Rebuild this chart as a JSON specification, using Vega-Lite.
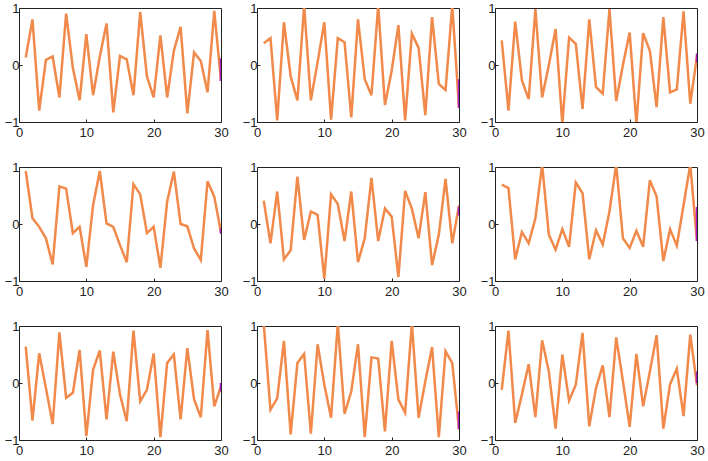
{
"$schema":"https://vega.github.io/schema/vega-lite/v6.json",
"padding":{"left":3,"top":1,"right":0,"bottom":0},
"background":"white",
"data":{"values":[
{"p":1,"x":1,"y":0.13,"s":"o"},{"p":1,"x":2,"y":0.8,"s":"o"},{"p":1,"x":3,"y":-0.8,"s":"o"},{"p":1,"x":4,"y":0.09,"s":"o"},{"p":1,"x":5,"y":0.15,"s":"o"},{"p":1,"x":6,"y":-0.57,"s":"o"},{"p":1,"x":7,"y":0.9,"s":"o"},{"p":1,"x":8,"y":-0.05,"s":"o"},{"p":1,"x":9,"y":-0.62,"s":"o"},{"p":1,"x":10,"y":0.54,"s":"o"},{"p":1,"x":11,"y":-0.53,"s":"o"},{"p":1,"x":12,"y":0.15,"s":"o"},{"p":1,"x":13,"y":0.73,"s":"o"},{"p":1,"x":14,"y":-0.83,"s":"o"},{"p":1,"x":15,"y":0.16,"s":"o"},{"p":1,"x":16,"y":0.1,"s":"o"},{"p":1,"x":17,"y":-0.53,"s":"o"},{"p":1,"x":18,"y":0.93,"s":"o"},{"p":1,"x":19,"y":-0.2,"s":"o"},{"p":1,"x":20,"y":-0.57,"s":"o"},{"p":1,"x":21,"y":0.52,"s":"o"},{"p":1,"x":22,"y":-0.57,"s":"o"},{"p":1,"x":23,"y":0.25,"s":"o"},{"p":1,"x":24,"y":0.67,"s":"o"},{"p":1,"x":25,"y":-0.85,"s":"o"},{"p":1,"x":26,"y":0.22,"s":"o"},{"p":1,"x":27,"y":0.07,"s":"o"},{"p":1,"x":28,"y":-0.48,"s":"o"},{"p":1,"x":29,"y":0.95,"s":"o"},{"p":1,"x":30,"y":-0.28,"s":"o"},
{"p":2,"x":1,"y":0.38,"s":"o"},{"p":2,"x":2,"y":0.47,"s":"o"},{"p":2,"x":3,"y":-0.97,"s":"o"},{"p":2,"x":4,"y":0.75,"s":"o"},{"p":2,"x":5,"y":-0.2,"s":"o"},{"p":2,"x":6,"y":-0.62,"s":"o"},{"p":2,"x":7,"y":1.04,"s":"o"},{"p":2,"x":8,"y":-0.62,"s":"o"},{"p":2,"x":9,"y":0.05,"s":"o"},{"p":2,"x":10,"y":0.75,"s":"o"},{"p":2,"x":11,"y":-0.96,"s":"o"},{"p":2,"x":12,"y":0.47,"s":"o"},{"p":2,"x":13,"y":0.4,"s":"o"},{"p":2,"x":14,"y":-0.92,"s":"o"},{"p":2,"x":15,"y":0.8,"s":"o"},{"p":2,"x":16,"y":-0.25,"s":"o"},{"p":2,"x":17,"y":-0.53,"s":"o"},{"p":2,"x":18,"y":1.04,"s":"o"},{"p":2,"x":19,"y":-0.7,"s":"o"},{"p":2,"x":20,"y":-0.1,"s":"o"},{"p":2,"x":21,"y":0.7,"s":"o"},{"p":2,"x":22,"y":-0.97,"s":"o"},{"p":2,"x":23,"y":0.55,"s":"o"},{"p":2,"x":24,"y":0.3,"s":"o"},{"p":2,"x":25,"y":-0.88,"s":"o"},{"p":2,"x":26,"y":0.84,"s":"o"},{"p":2,"x":27,"y":-0.33,"s":"o"},{"p":2,"x":28,"y":-0.44,"s":"o"},{"p":2,"x":29,"y":1.04,"s":"o"},{"p":2,"x":30,"y":-0.75,"s":"o"},
{"p":3,"x":1,"y":0.43,"s":"o"},{"p":3,"x":2,"y":-0.8,"s":"o"},{"p":3,"x":3,"y":0.76,"s":"o"},{"p":3,"x":4,"y":-0.27,"s":"o"},{"p":3,"x":5,"y":-0.6,"s":"o"},{"p":3,"x":6,"y":0.98,"s":"o"},{"p":3,"x":7,"y":-0.57,"s":"o"},{"p":3,"x":8,"y":0.0,"s":"o"},{"p":3,"x":9,"y":0.63,"s":"o"},{"p":3,"x":10,"y":-1.03,"s":"o"},{"p":3,"x":11,"y":0.48,"s":"o"},{"p":3,"x":12,"y":0.37,"s":"o"},{"p":3,"x":13,"y":-0.77,"s":"o"},{"p":3,"x":14,"y":0.8,"s":"o"},{"p":3,"x":15,"y":-0.39,"s":"o"},{"p":3,"x":16,"y":-0.5,"s":"o"},{"p":3,"x":17,"y":0.98,"s":"o"},{"p":3,"x":18,"y":-0.63,"s":"o"},{"p":3,"x":19,"y":0.0,"s":"o"},{"p":3,"x":20,"y":0.57,"s":"o"},{"p":3,"x":21,"y":-1.03,"s":"o"},{"p":3,"x":22,"y":0.56,"s":"o"},{"p":3,"x":23,"y":0.25,"s":"o"},{"p":3,"x":24,"y":-0.74,"s":"o"},{"p":3,"x":25,"y":0.84,"s":"o"},{"p":3,"x":26,"y":-0.48,"s":"o"},{"p":3,"x":27,"y":-0.43,"s":"o"},{"p":3,"x":28,"y":0.94,"s":"o"},{"p":3,"x":29,"y":-0.68,"s":"o"},{"p":3,"x":30,"y":0.16,"s":"o"},
{"p":4,"x":1,"y":0.93,"s":"o"},{"p":4,"x":2,"y":0.1,"s":"o"},{"p":4,"x":3,"y":-0.05,"s":"o"},{"p":4,"x":4,"y":-0.25,"s":"o"},{"p":4,"x":5,"y":-0.71,"s":"o"},{"p":4,"x":6,"y":0.66,"s":"o"},{"p":4,"x":7,"y":0.62,"s":"o"},{"p":4,"x":8,"y":-0.16,"s":"o"},{"p":4,"x":9,"y":-0.05,"s":"o"},{"p":4,"x":10,"y":-0.75,"s":"o"},{"p":4,"x":11,"y":0.33,"s":"o"},{"p":4,"x":12,"y":0.93,"s":"o"},{"p":4,"x":13,"y":0.01,"s":"o"},{"p":4,"x":14,"y":-0.05,"s":"o"},{"p":4,"x":15,"y":-0.37,"s":"o"},{"p":4,"x":16,"y":-0.67,"s":"o"},{"p":4,"x":17,"y":0.7,"s":"o"},{"p":4,"x":18,"y":0.52,"s":"o"},{"p":4,"x":19,"y":-0.16,"s":"o"},{"p":4,"x":20,"y":-0.05,"s":"o"},{"p":4,"x":21,"y":-0.77,"s":"o"},{"p":4,"x":22,"y":0.39,"s":"o"},{"p":4,"x":23,"y":0.92,"s":"o"},{"p":4,"x":24,"y":0.0,"s":"o"},{"p":4,"x":25,"y":-0.04,"s":"o"},{"p":4,"x":26,"y":-0.43,"s":"o"},{"p":4,"x":27,"y":-0.63,"s":"o"},{"p":4,"x":28,"y":0.75,"s":"o"},{"p":4,"x":29,"y":0.48,"s":"o"},{"p":4,"x":30,"y":-0.15,"s":"o"},
{"p":5,"x":1,"y":0.41,"s":"o"},{"p":5,"x":2,"y":-0.34,"s":"o"},{"p":5,"x":3,"y":0.57,"s":"o"},{"p":5,"x":4,"y":-0.62,"s":"o"},{"p":5,"x":5,"y":-0.46,"s":"o"},{"p":5,"x":6,"y":0.83,"s":"o"},{"p":5,"x":7,"y":-0.28,"s":"o"},{"p":5,"x":8,"y":0.22,"s":"o"},{"p":5,"x":9,"y":0.16,"s":"o"},{"p":5,"x":10,"y":-0.96,"s":"o"},{"p":5,"x":11,"y":0.52,"s":"o"},{"p":5,"x":12,"y":0.35,"s":"o"},{"p":5,"x":13,"y":-0.3,"s":"o"},{"p":5,"x":14,"y":0.57,"s":"o"},{"p":5,"x":15,"y":-0.67,"s":"o"},{"p":5,"x":16,"y":-0.25,"s":"o"},{"p":5,"x":17,"y":0.81,"s":"o"},{"p":5,"x":18,"y":-0.3,"s":"o"},{"p":5,"x":19,"y":0.27,"s":"o"},{"p":5,"x":20,"y":0.13,"s":"o"},{"p":5,"x":21,"y":-0.93,"s":"o"},{"p":5,"x":22,"y":0.58,"s":"o"},{"p":5,"x":23,"y":0.27,"s":"o"},{"p":5,"x":24,"y":-0.25,"s":"o"},{"p":5,"x":25,"y":0.56,"s":"o"},{"p":5,"x":26,"y":-0.72,"s":"o"},{"p":5,"x":27,"y":-0.19,"s":"o"},{"p":5,"x":28,"y":0.79,"s":"o"},{"p":5,"x":29,"y":-0.34,"s":"o"},{"p":5,"x":30,"y":0.33,"s":"o"},
{"p":6,"x":1,"y":0.69,"s":"o"},{"p":6,"x":2,"y":0.63,"s":"o"},{"p":6,"x":3,"y":-0.62,"s":"o"},{"p":6,"x":4,"y":-0.14,"s":"o"},{"p":6,"x":5,"y":-0.34,"s":"o"},{"p":6,"x":6,"y":0.1,"s":"o"},{"p":6,"x":7,"y":1.04,"s":"o"},{"p":6,"x":8,"y":-0.19,"s":"o"},{"p":6,"x":9,"y":-0.45,"s":"o"},{"p":6,"x":10,"y":-0.09,"s":"o"},{"p":6,"x":11,"y":-0.4,"s":"o"},{"p":6,"x":12,"y":0.73,"s":"o"},{"p":6,"x":13,"y":0.54,"s":"o"},{"p":6,"x":14,"y":-0.62,"s":"o"},{"p":6,"x":15,"y":-0.11,"s":"o"},{"p":6,"x":16,"y":-0.36,"s":"o"},{"p":6,"x":17,"y":0.22,"s":"o"},{"p":6,"x":18,"y":1.04,"s":"o"},{"p":6,"x":19,"y":-0.25,"s":"o"},{"p":6,"x":20,"y":-0.42,"s":"o"},{"p":6,"x":21,"y":-0.12,"s":"o"},{"p":6,"x":22,"y":-0.4,"s":"o"},{"p":6,"x":23,"y":0.77,"s":"o"},{"p":6,"x":24,"y":0.48,"s":"o"},{"p":6,"x":25,"y":-0.65,"s":"o"},{"p":6,"x":26,"y":-0.09,"s":"o"},{"p":6,"x":27,"y":-0.38,"s":"o"},{"p":6,"x":28,"y":0.33,"s":"o"},{"p":6,"x":29,"y":1.04,"s":"o"},{"p":6,"x":30,"y":-0.3,"s":"o"},
{"p":7,"x":1,"y":0.64,"s":"o"},{"p":7,"x":2,"y":-0.66,"s":"o"},{"p":7,"x":3,"y":0.52,"s":"o"},{"p":7,"x":4,"y":-0.09,"s":"o"},{"p":7,"x":5,"y":-0.72,"s":"o"},{"p":7,"x":6,"y":0.89,"s":"o"},{"p":7,"x":7,"y":-0.26,"s":"o"},{"p":7,"x":8,"y":-0.17,"s":"o"},{"p":7,"x":9,"y":0.58,"s":"o"},{"p":7,"x":10,"y":-0.93,"s":"o"},{"p":7,"x":11,"y":0.23,"s":"o"},{"p":7,"x":12,"y":0.57,"s":"o"},{"p":7,"x":13,"y":-0.64,"s":"o"},{"p":7,"x":14,"y":0.55,"s":"o"},{"p":7,"x":15,"y":-0.2,"s":"o"},{"p":7,"x":16,"y":-0.67,"s":"o"},{"p":7,"x":17,"y":0.92,"s":"o"},{"p":7,"x":18,"y":-0.32,"s":"o"},{"p":7,"x":19,"y":-0.12,"s":"o"},{"p":7,"x":20,"y":0.52,"s":"o"},{"p":7,"x":21,"y":-0.95,"s":"o"},{"p":7,"x":22,"y":0.35,"s":"o"},{"p":7,"x":23,"y":0.5,"s":"o"},{"p":7,"x":24,"y":-0.64,"s":"o"},{"p":7,"x":25,"y":0.61,"s":"o"},{"p":7,"x":26,"y":-0.29,"s":"o"},{"p":7,"x":27,"y":-0.6,"s":"o"},{"p":7,"x":28,"y":0.93,"s":"o"},{"p":7,"x":29,"y":-0.41,"s":"o"},{"p":7,"x":30,"y":-0.06,"s":"o"},
{"p":8,"x":1,"y":1.04,"s":"o"},{"p":8,"x":2,"y":-0.47,"s":"o"},{"p":8,"x":3,"y":-0.27,"s":"o"},{"p":8,"x":4,"y":0.74,"s":"o"},{"p":8,"x":5,"y":-0.9,"s":"o"},{"p":8,"x":6,"y":0.35,"s":"o"},{"p":8,"x":7,"y":0.51,"s":"o"},{"p":8,"x":8,"y":-0.89,"s":"o"},{"p":8,"x":9,"y":0.68,"s":"o"},{"p":8,"x":10,"y":-0.03,"s":"o"},{"p":8,"x":11,"y":-0.61,"s":"o"},{"p":8,"x":12,"y":1.04,"s":"o"},{"p":8,"x":13,"y":-0.54,"s":"o"},{"p":8,"x":14,"y":-0.15,"s":"o"},{"p":8,"x":15,"y":0.68,"s":"o"},{"p":8,"x":16,"y":-0.95,"s":"o"},{"p":8,"x":17,"y":0.45,"s":"o"},{"p":8,"x":18,"y":0.43,"s":"o"},{"p":8,"x":19,"y":-0.85,"s":"o"},{"p":8,"x":20,"y":0.74,"s":"o"},{"p":8,"x":21,"y":-0.29,"s":"o"},{"p":8,"x":22,"y":-0.52,"s":"o"},{"p":8,"x":23,"y":1.04,"s":"o"},{"p":8,"x":24,"y":-0.61,"s":"o"},{"p":8,"x":25,"y":0.03,"s":"o"},{"p":8,"x":26,"y":0.63,"s":"o"},{"p":8,"x":27,"y":-0.95,"s":"o"},{"p":8,"x":28,"y":0.56,"s":"o"},{"p":8,"x":29,"y":0.35,"s":"o"},{"p":8,"x":30,"y":-0.81,"s":"o"},
{"p":9,"x":1,"y":-0.12,"s":"o"},{"p":9,"x":2,"y":0.92,"s":"o"},{"p":9,"x":3,"y":-0.7,"s":"o"},{"p":9,"x":4,"y":-0.2,"s":"o"},{"p":9,"x":5,"y":0.33,"s":"o"},{"p":9,"x":6,"y":-0.6,"s":"o"},{"p":9,"x":7,"y":0.75,"s":"o"},{"p":9,"x":8,"y":0.2,"s":"o"},{"p":9,"x":9,"y":-0.8,"s":"o"},{"p":9,"x":10,"y":0.5,"s":"o"},{"p":9,"x":11,"y":-0.31,"s":"o"},{"p":9,"x":12,"y":-0.03,"s":"o"},{"p":9,"x":13,"y":0.88,"s":"o"},{"p":9,"x":14,"y":-0.76,"s":"o"},{"p":9,"x":15,"y":-0.09,"s":"o"},{"p":9,"x":16,"y":0.31,"s":"o"},{"p":9,"x":17,"y":-0.6,"s":"o"},{"p":9,"x":18,"y":0.8,"s":"o"},{"p":9,"x":19,"y":0.03,"s":"o"},{"p":9,"x":20,"y":-0.77,"s":"o"},{"p":9,"x":21,"y":0.51,"s":"o"},{"p":9,"x":22,"y":-0.41,"s":"o"},{"p":9,"x":23,"y":0.2,"s":"o"},{"p":9,"x":24,"y":0.84,"s":"o"},{"p":9,"x":25,"y":-0.8,"s":"o"},{"p":9,"x":26,"y":-0.02,"s":"o"},{"p":9,"x":27,"y":0.25,"s":"o"},{"p":9,"x":28,"y":-0.58,"s":"o"},{"p":9,"x":29,"y":0.85,"s":"o"},{"p":9,"x":30,"y":-0.04,"s":"o"},
{"p":1,"x":30,"y":0.12,"s":"m"},{"p":1,"x":30,"y":-0.28,"s":"m"},
{"p":2,"x":30,"y":-0.25,"s":"m"},{"p":2,"x":30,"y":-0.75,"s":"m"},
{"p":3,"x":30,"y":0.2,"s":"m"},{"p":3,"x":30,"y":0.05,"s":"m"},
{"p":4,"x":30,"y":-0.08,"s":"m"},{"p":4,"x":30,"y":-0.17,"s":"m"},
{"p":5,"x":30,"y":0.3,"s":"m"},{"p":5,"x":30,"y":0.15,"s":"m"},
{"p":6,"x":30,"y":0.3,"s":"m"},{"p":6,"x":30,"y":-0.3,"s":"m"},
{"p":7,"x":30,"y":0.0,"s":"m"},{"p":7,"x":30,"y":-0.15,"s":"m"},
{"p":8,"x":30,"y":-0.5,"s":"m"},{"p":8,"x":30,"y":-0.81,"s":"m"},
{"p":9,"x":30,"y":0.2,"s":"m"},{"p":9,"x":30,"y":0.0,"s":"m"}
]},
"facet":{"field":"p","type":"ordinal","title":null,"header":{"title":null,"labels":false,"labelExpr":"''","labelFontSize":0,"labelPadding":0}},
"columns":3,
"spacing":{"row":45,"column":36},
"bounds":"flush",
"resolve":{"axis":{"x":"independent","y":"independent"}},
"spec":{
"width":202,"height":114,
"mark":{"type":"line","strokeWidth":2.5,"clip":true},
"encoding":{
"x":{"field":"x","type":"quantitative","scale":{"domain":[0,30],"nice":false},"axis":{"values":[0,10,20,30],"labelExpr":"format(datum.value,'~g')","labelPadding":7,"title":null}},
"y":{"field":"y","type":"quantitative","scale":{"domain":[-1,1],"nice":false},"axis":{"values":[-1,0,1],"labelExpr":"format(datum.value,'~g')","title":null}},
"color":{"field":"s","type":"nominal","scale":{"domain":["o","m"],"range":["#F0894A","#B01EC8"]},"legend":null}
}
},
"config":{
"header":{"labels":false,"title":null,"labelFontSize":0,"labelPadding":0},
"view":{"stroke":"#222","strokeWidth":1},
"axis":{"domain":false,"grid":false,"tickSize":-3,"tickColor":"#222","labelFont":"Liberation Sans","labelFontSize":13,"labelColor":"#222","labelPadding":3,"labelFlush":false,"labelOverlap":false,"labelBound":false}
}
}
